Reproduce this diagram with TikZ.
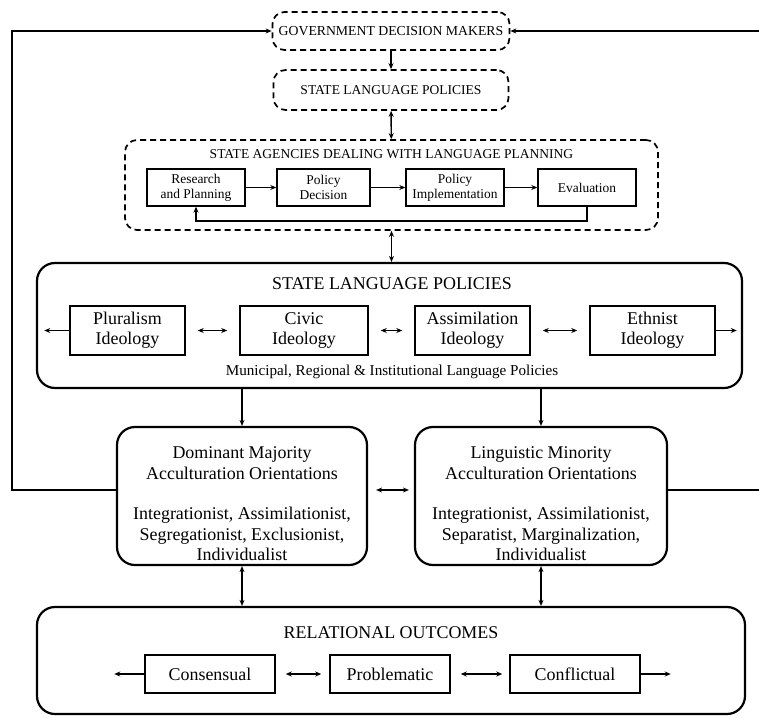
\documentclass[tikz,border=0pt]{standalone}
\usepackage{fontspec}
\setmainfont{Liberation Serif}
\usetikzlibrary{arrows.meta}
\begin{document}
\begin{tikzpicture}[x=1bp,y=-1bp,
  >={Stealth[length=6bp,width=5bp]},
  dashbox/.style={draw, dash pattern=on 6bp off 4bp, line width=1.7bp, rounded corners=12bp, inner sep=0pt, align=center},
  bigbox/.style={draw, line width=2.2bp, rounded corners=18bp, inner sep=0pt},
  agbox/.style={draw, line width=1.4bp, inner sep=0pt, align=center, font=\fontsize{13.5}{15}\selectfont, minimum height=37bp},
  idbox/.style={draw, line width=1.5bp, inner sep=0pt, align=center, font=\fontsize{18}{20}\selectfont},
  txt/.style={inner sep=0pt, align=center, font=\fontsize{18}{20.5}\selectfont},
  conn/.style={line width=1.4bp},
]
\useasboundingbox (0,0) rectangle (759,718);

% top dashed boxes
\node[dashbox, minimum width=237bp, minimum height=38bp, font=\fontsize{13.8}{15}\selectfont] (GDM) at (391,31) {GOVERNMENT DECISION MAKERS};
\node[dashbox, minimum width=235bp, minimum height=40bp, font=\fontsize{13.6}{15}\selectfont] (SLP1) at (391,90) {STATE LANGUAGE POLICIES};

% agencies
\node[dashbox, minimum width=533bp, minimum height=90bp] (Ag) at (391.5,185) {};
\node[inner sep=0pt, font=\fontsize{13.6}{15}\selectfont] (AgT) at (391.5,154) {STATE AGENCIES DEALING WITH LANGUAGE PLANNING};
\node[agbox, minimum width=98bp] (Res) at (196,187.5) {Research\\and Planning};
\node[agbox, minimum width=93bp] (Dec) at (323.5,187.5) {Policy\\Decision};
\node[agbox, minimum width=98bp] (Imp) at (455,187.5) {Policy\\Implementation};
\node[agbox, minimum width=98bp] (Eva) at (587,187.5) {Evaluation};
\draw[conn,->] (Res) -- (Dec);
\draw[conn,->] (Dec) -- (Imp);
\draw[conn,->] (Imp) -- (Eva);
\coordinate (agfb) at (0,221);
\draw[conn,->] (Eva.south) -- (Eva.south |- agfb) -- (Res.south |- agfb) -- (Res.south);

\draw[conn,->] (GDM) -- (SLP1);
\draw[conn,<->] (SLP1) -- (Ag);

% state language policies
\node[bigbox, minimum width=705bp, minimum height=125bp] (SLP2) at (389.5,325.5) {};
\node[txt] (SLP2T) at (392,284) {STATE LANGUAGE POLICIES};
\node[idbox, minimum width=115bp, minimum height=49bp] (Plu) at (127.5,330.5) {Pluralism\\Ideology};
\node[idbox, minimum width=128bp, minimum height=49bp] (Civ) at (304,330.5) {Civic\\Ideology};
\node[idbox, minimum width=115bp, minimum height=49bp] (Ass) at (472.5,330.5) {Assimilation\\Ideology};
\node[idbox, minimum width=125bp, minimum height=49bp] (Eth) at (652.5,330.5) {Ethnist\\Ideology};
\node[inner sep=0pt, font=\fontsize{15.2}{17}\selectfont] (Mun) at (392,372) {Municipal, Regional \& Institutional Language Policies};
\draw[conn,->] (Plu.west) -- ++(-25,0);
\draw[conn,->] (Eth.east) -- ++(21,0);
\draw[conn,<->,shorten <=12bp,shorten >=12bp] (Plu) -- (Civ);
\draw[conn,<->,shorten <=12bp,shorten >=12bp] (Civ) -- (Ass);
\draw[conn,<->,shorten <=12bp,shorten >=12bp] (Ass) -- (Eth);

\draw[conn,<->] (Ag) -- (Ag.south |- SLP2.north);

% acculturation boxes
\node[bigbox, minimum width=250bp, minimum height=138bp] (DM) at (242,496) {};
\node[txt] (DMh) at (242,463) {Dominant Majority\\Acculturation Orientations};
\node[txt] (DMb) at (242,534) {Integrationist, Assimilationist,\\Segregationist, Exclusionist,\\Individualist};
\node[bigbox, minimum width=252bp, minimum height=138bp] (LM) at (541,496) {};
\node[txt] (LMh) at (541,463) {Linguistic Minority\\Acculturation Orientations};
\node[txt] (LMb) at (541,534) {Integrationist, Assimilationist,\\Separatist, Marginalization,\\Individualist};

\draw[conn,->] (DM.north |- SLP2.south) -- (DM.north);
\draw[conn,->] (LM.north |- SLP2.south) -- (LM.north);

\coordinate (fbL) at (12,490);
\coordinate (fbR) at (768,490);
\draw[conn,<->,shorten <=8bp,shorten >=5bp] (DM.east |- fbL) -- (LM.west |- fbL);
\draw[conn,->] (DM.west |- fbL) -- (fbL) -- (fbL |- GDM.west) -- (GDM.west);
\draw[conn,->] (LM.east |- fbR) -- (fbR) -- (fbR |- GDM.east) -- (GDM.east);

% relational outcomes
\node[bigbox, minimum width=708bp, minimum height=107bp] (RO) at (391,660.5) {};
\node[txt] (ROT) at (391,633) {RELATIONAL OUTCOMES};
\node[idbox, minimum width=130bp, minimum height=38bp] (Con) at (210,674) {Consensual};
\node[idbox, minimum width=120bp, minimum height=38bp] (Pro) at (390,674) {Problematic};
\node[idbox, minimum width=130bp, minimum height=38bp] (Cfl) at (575,674) {Conflictual};
\draw[conn,->] (Con.west) -- ++(-30,0);
\draw[conn,->] (Cfl.east) -- ++(30,0);
\draw[conn,<->,shorten <=10bp,shorten >=8bp] (Con) -- (Pro);
\draw[conn,<->,shorten <=10bp,shorten >=7bp] (Pro) -- (Cfl);

\draw[conn,<->] (DM.south) -- (DM.south |- RO.north);
\draw[conn,<->] (LM.south) -- (LM.south |- RO.north);
\end{tikzpicture}
\end{document}
